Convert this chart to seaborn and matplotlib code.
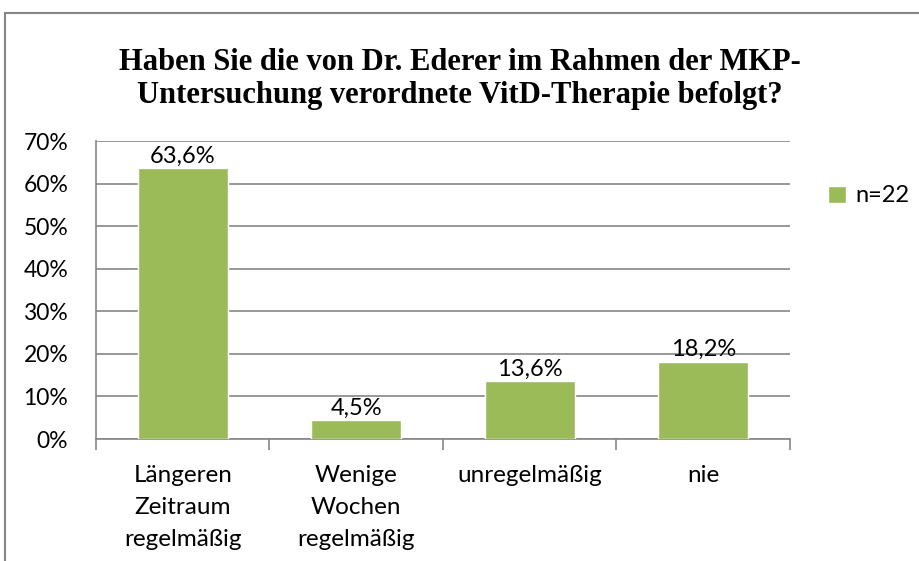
import numpy as np
import pandas as pd
import matplotlib
matplotlib.use('Agg')
import matplotlib.pyplot as plt
import seaborn as sns
from matplotlib.patches import Rectangle, Patch

kategorien = ['Längeren\nZeitraum\nregelmäßig', 'Wenige\nWochen\nregelmäßig', 'unregelmäßig', 'nie']
anteile = [63.6, 4.5, 13.6, 18.2]
y_ticks = [0, 10, 20, 30, 40, 50, 60, 70]
legende = 'n=22'
titel = 'Haben Sie die von Dr. Ederer im Rahmen der MKP-\nUntersuchung verordnete VitD-Therapie befolgt?'

gruen = '#9BBB59'
grau = '#868686'

sns.set_style('white')
plt.rcParams['font.family'] = ['Lato', 'DejaVu Sans']
plt.rcParams['text.color'] = 'black'

df = pd.DataFrame({'kategorie': kategorien, 'anteil': anteile})

fig = plt.figure(figsize=(9.2, 5.61), dpi=100)
ax = fig.add_axes([96/920, 1 - 439/561, (790 - 96)/920, (439 - 141)/561])

sns.barplot(data=df, x='kategorie', y='anteil', color=gruen, width=0.52,
            saturation=1, ax=ax, zorder=3)

# Beschriftungen über den Balken
for i, wert in enumerate(anteile):
    ax.text(i, wert + 0.3, f'{wert:.1f}%'.replace('.', ','), ha='center', va='bottom',
            fontsize=17, color='black', zorder=4)

ax.set_ylim(0, 70)
ax.set_xlim(-0.5, len(kategorien) - 0.5)
ax.set_yticks(y_ticks)
ax.set_yticklabels([f'{t}%' for t in y_ticks], fontsize=16.5)
ax.yaxis.grid(True, color=grau, linewidth=1.2, zorder=0)
ax.set_xlabel('')
ax.set_ylabel('')

# Teilstriche zwischen den Kategorien
ax.set_xticks(np.arange(-0.5, len(kategorien)), minor=True)
ax.set_xticks(np.arange(len(kategorien)))
ax.set_xticklabels(kategorien, fontsize=17.5, linespacing=1.65, va='top')
ax.tick_params(axis='x', which='major', length=0, pad=19, labelcolor='black')
ax.tick_params(axis='x', which='minor', length=8, color=grau, width=1.2, direction='out')
ax.tick_params(axis='y', length=8, color=grau, width=1.2, direction='out', pad=12,
               labelcolor='black')
ax.tick_params(axis='x', which='minor', bottom=True)

for s in ['top', 'right']:
    ax.spines[s].set_visible(False)
for s in ['left', 'bottom']:
    ax.spines[s].set_color(grau)
    ax.spines[s].set_linewidth(1.2)

ax.legend(handles=[Patch(facecolor=gruen, label=legende)], loc='center left',
          bbox_to_anchor=(828/920, 1 - 196/561), bbox_transform=fig.transFigure,
          frameon=False, fontsize=17, handlelength=0.75, handleheight=0.75,
          handletextpad=0.4, borderaxespad=0, borderpad=0, labelcolor='black')

fig.text(0.5, 1 - 79/561, titel, ha='center', va='center', fontsize=22,
         fontweight='bold', family='Liberation Serif', linespacing=1.2, color='black')

# Rahmen des Diagrammbereichs
fig.patches.append(Rectangle((5/920, -0.1), 1.2, 1 - 13/561 + 0.1,
                             transform=fig.transFigure, fill=False,
                             edgecolor=grau, linewidth=1.5))

fig.savefig('out.png', dpi=100)
